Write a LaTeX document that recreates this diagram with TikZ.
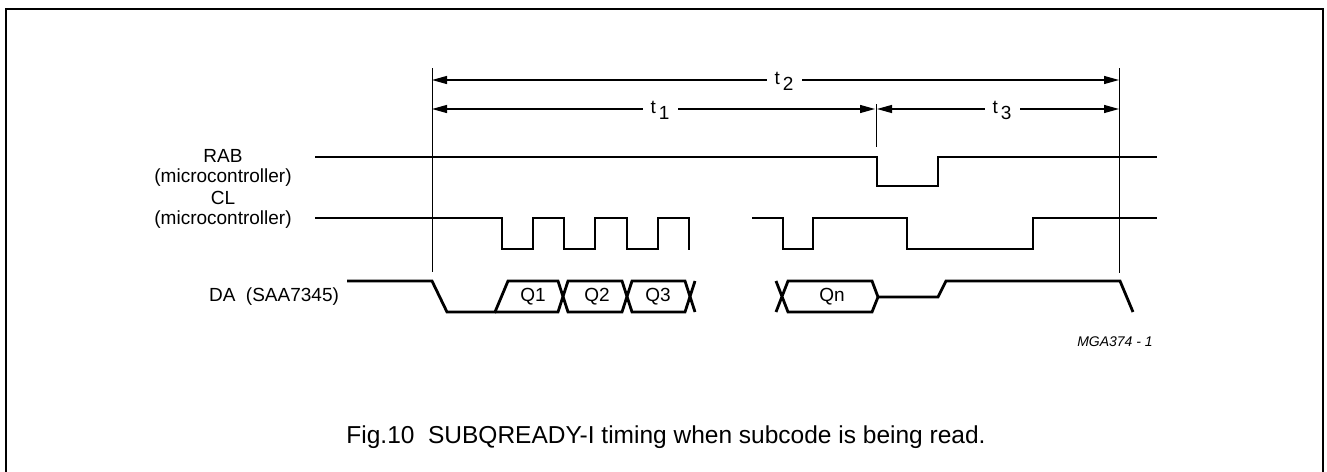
\documentclass[tikz,border=0pt]{standalone}
\usepackage{fontspec}
\setmainfont{Liberation Sans}
\usetikzlibrary{arrows.meta}
\begin{document}
\begin{tikzpicture}[x=1pt,y=-1pt,
  sig/.style={line width=2.8pt,line join=miter,line cap=butt},
  thin/.style={line width=1pt},
  dim/.style={line width=1.2pt,{Triangle[length=15pt,width=8pt]}-{Triangle[length=15pt,width=8pt]}},
  lbl/.style={font=\fontsize{19}{19.5}\selectfont,align=center,inner sep=0pt},
  qlbl/.style={font=\fontsize{19}{19}\selectfont,inner sep=0pt},
  tlbl/.style={font=\fontsize{19}{19}\selectfont,fill=white,inner xsep=8pt,inner ysep=0pt}]
\useasboundingbox (0,0) rectangle (1327,471);
% frame
\draw[line width=2.2pt] (6,480) -- (6,9) -- (1323,9) -- (1323,480);
% reference coordinates
\coordinate (a0) at (432,68);
\coordinate (a1) at (432,272);
\coordinate (b0) at (1119,68);
\coordinate (b1) at (1119,273);
\coordinate (m0) at (876,104);
\coordinate (m1) at (876,147);
\draw[thin] (a0) -- (a1);
\draw[thin] (b0) -- (b1);
\draw[thin] (m0) -- (m1);
% dimension arrows
\coordinate (t2l) at (432,80);
\coordinate (t2r) at (1119,80);
\coordinate (t1l) at (432,109);
\coordinate (t1r) at (875,109);
\coordinate (t3l) at (877,109);
\coordinate (t3r) at (1119,109);
\draw[dim] (t2l) -- (t2r);
\draw[dim] (t1l) -- (t1r);
\draw[dim] (t3l) -- (t3r);
\node[tlbl] (t2) at (784,81) {t\,\raisebox{-6pt}{2}};
\node[tlbl] (t1) at (660,110) {t\,\raisebox{-6pt}{1}};
\node[tlbl] (t3) at (1002,110) {t\,\raisebox{-6pt}{3}};
% labels
\node[lbl] (rabl) at (223,168) {RAB\\(microcontroller)};
\node[lbl] (cll) at (223,210) {CL\\(microcontroller)};
\node[lbl] (dal) at (274,297) {DA\ \ (SAA7345)};
% RAB
\draw[sig] (315,157) -- (877,157) -- (877,186) -- (938,186) -- (938,157) -- (1157,157);
% CL
\draw[sig] (315,218) -- (502,218) -- (502,249) -- (533,249) -- (533,218) -- (564,218)
  -- (564,249) -- (595,249) -- (595,218) -- (627,218) -- (627,249) -- (658,249)
  -- (658,218) -- (689,218) -- (689,250);
\draw[sig] (752,218) -- (783,218) -- (783,249) -- (813,249) -- (813,218) -- (907,218)
  -- (907,249) -- (1033,249) -- (1033,218) -- (1157,218);
% DA
\draw[sig] (347,281) -- (432,281) -- (447,312) -- (495,312) -- (508,281) -- (558,281) -- (568,312) -- (622,312) -- (632,281) -- (685,281) -- (695,312);
\draw[sig] (495,312) -- (558,312) -- (568,281) -- (622,281) -- (632,312) -- (685,312) -- (695,281);
\draw[sig] (776,281) -- (788,312) -- (872,312) -- (878,297) -- (872,281) -- (788,281) -- (776,312);
\draw[sig] (878,297) -- (938,297) -- (946,281) -- (1120,281) -- (1133,312);
\node[qlbl] (q1) at (533,297) {Q1};
\node[qlbl] (q2) at (597,297) {Q2};
\node[qlbl] (q3) at (658,297) {Q3};
\node[qlbl] (qn) at (832,297) {Qn};
% id and caption
\node[font=\fontsize{14}{14}\selectfont\itshape,inner sep=0pt] (id) at (1115,342) {MGA374 - 1};
\node[font=\fontsize{24.5}{25}\selectfont,inner sep=0pt] (cap) at (666,437) {Fig.10\ \ SUBQREADY-I timing when subcode is being read.};
\end{tikzpicture}
\end{document}
